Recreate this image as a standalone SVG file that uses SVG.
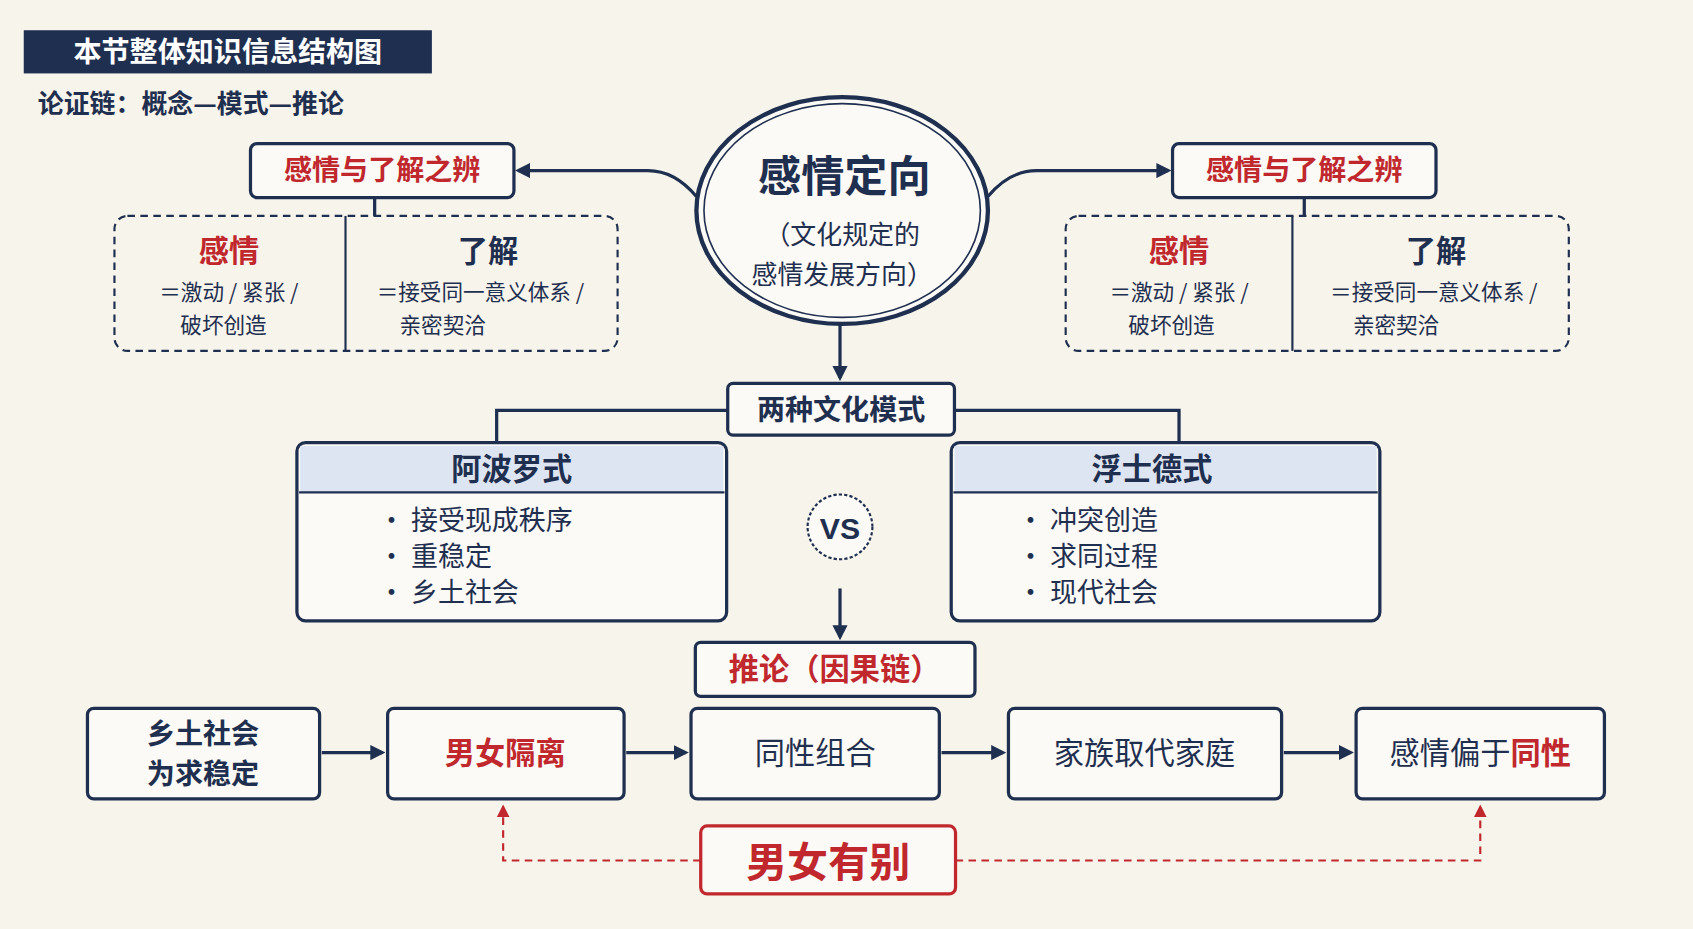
<svg xmlns="http://www.w3.org/2000/svg" width="1693" height="929" viewBox="0 0 1693 929">
<style>
text{font-family:"Noto Sans CJK SC","Noto Sans",sans-serif;fill:#1f2f4f;text-anchor:middle}
.b{font-weight:bold}
.r{fill:#c0282d}
.box{fill:#fbfaf6;stroke:#1f2f4f;stroke-width:3}
.rbox{fill:#fbfaf6;stroke:#c0282d;stroke-width:3}
.dash{fill:none;stroke:#1f2f4f;stroke-width:2;stroke-dasharray:7 5}
.ln{fill:none;stroke:#1f2f4f;stroke-width:3}
.rd{fill:none;stroke:#c0282d;stroke-width:2;stroke-dasharray:7 5}
</style>
<defs>
<marker id="a" markerWidth="14" markerHeight="14" refX="11" refY="7" orient="auto" markerUnits="userSpaceOnUse"><path d="M0,0 L14,7 L0,14 z" fill="#1f2f4f"/></marker>
<marker id="ar" markerWidth="12" markerHeight="12" refX="10" refY="6" orient="auto" markerUnits="userSpaceOnUse"><path d="M0,0 L12,6 L0,12 z" fill="#c0282d"/></marker>
</defs>
<rect width="1693" height="929" fill="#f7f4ec"/>
<g transform="scale(1.0797)">
<g id="title">
<rect x="22" y="28" width="378" height="40" fill="#1f2f4f"/>
<text x="211" y="57" font-size="26" class="b" style="fill:#fff">本节整体知识信息结构图</text>
<text x="35" y="105" font-size="24" class="b" style="text-anchor:start">论证链：概念—模式—推论</text>
</g>
<g id="connectors">
<path class="ln" d="M645,182 Q625,158 600,158 L480,158" marker-end="url(#a)"/>
<path class="ln" d="M915,182 Q935,158 960,158 L1082,158" marker-end="url(#a)"/>
<path class="ln" d="M347,183 V200 M1208,183 V200"/>
<path class="ln" d="M778,300 V350" marker-end="url(#a)"/>
<path class="ln" d="M674,380 H460 V410 M884,380 H1092 V410"/>
<path class="ln" d="M778,545 V590" marker-end="url(#a)"/>
<path class="ln" d="M298,697 H354" marker-end="url(#a)"/>
<path class="ln" d="M580,697 H635" marker-end="url(#a)"/>
<path class="ln" d="M872,697 H929" marker-end="url(#a)"/>
<path class="ln" d="M1189,697 H1251" marker-end="url(#a)"/>
<path class="rd" d="M649,797 H466 V747" marker-end="url(#ar)"/>
<path class="rd" d="M885,797 H1371 V747" marker-end="url(#ar)"/>
</g>
<g id="center">
<ellipse cx="780" cy="195" rx="135" ry="105" fill="#fbfaf6" stroke="#1f2f4f" stroke-width="4"/>
<ellipse cx="780" cy="195" rx="128" ry="99" fill="none" stroke="#1f2f4f" stroke-width="1.5"/>
<text x="782" y="178" font-size="40" class="b">感情定向</text>
<text x="780" y="226" font-size="24">（文化规定的</text>
<text x="780" y="263" font-size="24">感情发展方向）</text>
</g>
<g id="left-title"><rect class="box" x="232" y="133" width="244" height="50" rx="6"/><text x="354" y="167" font-size="26" class="b r">感情与了解之辨</text></g>
<g id="left-detail">
<rect class="dash" x="106" y="200" width="466" height="125" rx="12"/>
<path d="M320,200 V325" stroke="#1f2f4f" stroke-width="2"/>
<text x="212" y="243" font-size="28" class="b r">感情</text>
<text x="212" y="278" font-size="20">＝激动 / 紧张 /</text>
<text x="207" y="308" font-size="20">破坏创造</text>
<text x="452" y="243" font-size="28" class="b">了解</text>
<text x="445" y="278" font-size="20">＝接受同一意义体系 /</text>
<text x="410" y="308" font-size="20">亲密契洽</text>
</g>
<g id="right-title"><rect class="box" x="1086" y="133" width="244" height="50" rx="6"/><text x="1208" y="167" font-size="26" class="b r">感情与了解之辨</text></g>
<g id="right-detail">
<rect class="dash" x="987" y="200" width="466" height="125" rx="12"/>
<path d="M1197,200 V325" stroke="#1f2f4f" stroke-width="2"/>
<text x="1092" y="243" font-size="28" class="b r">感情</text>
<text x="1092" y="278" font-size="20">＝激动 / 紧张 /</text>
<text x="1085" y="308" font-size="20">破坏创造</text>
<text x="1330" y="243" font-size="28" class="b">了解</text>
<text x="1328" y="278" font-size="20">＝接受同一意义体系 /</text>
<text x="1293" y="308" font-size="20">亲密契洽</text>
</g>
<g id="modes"><rect class="box" x="674" y="355" width="210" height="48" rx="5"/><text x="779" y="389" font-size="26" class="b">两种文化模式</text></g>
<g id="apollo">
<rect class="box" x="275" y="410" width="398" height="165" rx="8"/>
<path d="M278,413 H670 V456 H278 Z" fill="#dde5f2"/>
<path d="M277,456 H671" stroke="#1f2f4f" stroke-width="2"/>
<text x="474" y="445" font-size="28" class="b">阿波罗式</text>
<g font-size="25">
<text x="350" y="491" style="text-anchor:start">•  接受现成秩序</text>
<text x="350" y="524" style="text-anchor:start">•  重稳定</text>
<text x="350" y="558" style="text-anchor:start">•  乡土社会</text>
</g>
</g>
<g id="faust">
<rect class="box" x="881" y="410" width="397" height="165" rx="8"/>
<path d="M884,413 H1275 V456 H884 Z" fill="#dde5f2"/>
<path d="M883,456 H1276" stroke="#1f2f4f" stroke-width="2"/>
<text x="1067" y="445" font-size="28" class="b">浮士德式</text>
<g font-size="25">
<text x="942" y="491" style="text-anchor:start">•  冲突创造</text>
<text x="942" y="524" style="text-anchor:start">•  求同过程</text>
<text x="942" y="558" style="text-anchor:start">•  现代社会</text>
</g>
</g>
<g id="vs"><circle cx="778" cy="488" r="30" fill="#fbfaf6" stroke="#1f2f4f" stroke-width="2" stroke-dasharray="3 2"/><text x="778" y="499" font-size="28" class="b" style="font-family:'Liberation Sans',sans-serif">VS</text></g>
<g id="infer"><rect class="box" x="644" y="595" width="259" height="50" rx="5"/><text x="773" y="630" font-size="28" class="b r">推论（因果链）</text></g>
<g id="c1"><rect class="box" x="81" y="656" width="215" height="84" rx="6"/><text x="188" y="689" font-size="26" class="b">乡土社会</text><text x="188" y="726" font-size="26" class="b">为求稳定</text></g>
<g id="c2"><rect class="box" x="359" y="656" width="219" height="84" rx="6"/><text x="468" y="708" font-size="28" class="b r">男女隔离</text></g>
<g id="c3"><rect class="box" x="640" y="656" width="230" height="84" rx="6"/><text x="755" y="708" font-size="28">同性组合</text></g>
<g id="c4"><rect class="box" x="934" y="656" width="253" height="84" rx="6"/><text x="1060" y="708" font-size="28">家族取代家庭</text></g>
<g id="c5"><rect class="box" x="1256" y="656" width="230" height="84" rx="6"/><text x="1371" y="708" font-size="28">感情偏于<tspan class="b r">同性</tspan></text></g>
<g id="gender"><rect class="rbox" x="649" y="765" width="236" height="63" rx="6"/><text x="767" y="812" font-size="38" class="b r">男女有别</text></g>
</g>
</svg>
